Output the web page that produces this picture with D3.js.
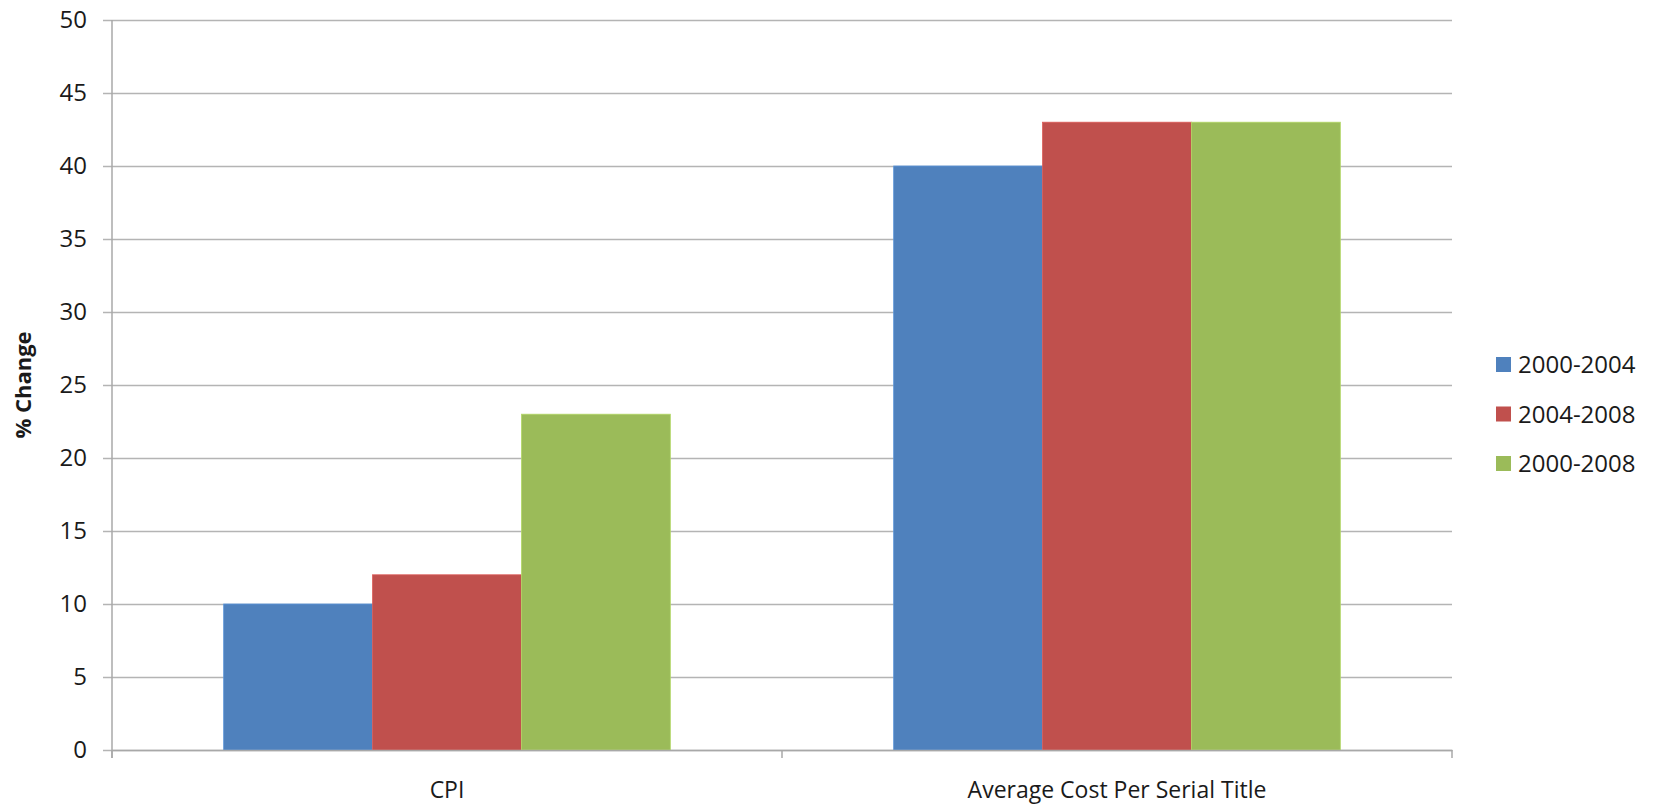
<!DOCTYPE html>
<html>
<head>
<meta charset="utf-8">
<script src="https://cdn.jsdelivr.net/npm/d3@7"></script>
<style>
  body { margin: 0; background: #fff; }
  text { font-family: "Open Sans", sans-serif; fill: #1a1a1a; }
</style>
</head>
<body>
<div id="chart"></div>
<script>
// data
var categories = ['CPI', 'Average Cost Per Serial Title'];
var seriesNames = ['2000-2004', '2004-2008', '2000-2008'];
var seriesColors = ['#4f81bd', '#c0504d', '#9bbb59'];
var values2000to2004 = [10, 40];
var values2004to2008 = [12, 43];
var values2000to2008 = [23, 43];
var yTicks = [0, 5, 10, 15, 20, 25, 30, 35, 40, 45, 50];

var width = 1656,
    height = 807,
    margin = { left: 112, right: 204, top: 20, bottom: 57 };

var chartWidth = width - margin.left - margin.right;
var chartHeight = height - margin.top - margin.bottom;

var seriesValues = [values2000to2004, values2004to2008, values2000to2008];
var data = categories.map(function(c, i) {
    return { cat: c, vals: seriesNames.map(function(s, j) { return { s: s, j: j, v: seriesValues[j][i] }; }) };
});

var svg = d3.select('#chart').append('svg')
    .attr('width', width)
    .attr('height', height);

var g = svg.append('g')
    .attr('transform', 'translate(' + margin.left + ',' + margin.top + ')');

var xScale = d3.scaleBand().domain(categories).range([0, chartWidth]).padding(0);
var x1 = d3.scaleBand().domain(seriesNames).range([0, xScale.bandwidth()])
    .paddingInner(0).paddingOuter(0.75);
var yScale = d3.scaleLinear().domain([0, 50]).range([chartHeight, 0]);

// gridlines + y axis
var yAxis = d3.axisLeft(yScale).tickValues(yTicks).tickSize(-chartWidth - 9).tickPadding(16);
var yG = g.append('g')
    .attr('class', 'axis y')
    .call(yAxis);
yG.select('.domain').remove();
yG.selectAll('.tick line')
    .attr('x1', -9)
    .attr('x2', chartWidth)
    .attr('stroke', '#b4b4b4')
    .attr('stroke-width', 1.5);
yG.selectAll('.tick text')
    .attr('x', -25)
    .style('font-size', '24px')
    .style('font-family', '"Open Sans", sans-serif')
    .attr('fill', '#1a1a1a');

// bars
var groups = g.selectAll('.grp').data(data).enter().append('g')
    .attr('class', 'grp')
    .attr('transform', function(d) { return 'translate(' + xScale(d.cat) + ',0)'; });

groups.selectAll('rect').data(function(d) { return d.vals; }).enter().append('rect')
    .attr('x', function(d) { return x1(d.s); })
    .attr('y', function(d) { return yScale(d.v); })
    .attr('width', x1.bandwidth())
    .attr('height', function(d) { return chartHeight - yScale(d.v); })
    .attr('fill', function(d) { return seriesColors[d.j]; })
    .attr('stroke', function(d) { return d3.color(seriesColors[d.j]).brighter(0.4); })
    .attr('stroke-width', 0.8);

// vertical axis line
g.append('line')
    .attr('x1', 0).attr('x2', 0)
    .attr('y1', 0).attr('y2', chartHeight + 8)
    .attr('stroke', '#a8a8a8').attr('stroke-width', 1.5);

// x axis
var xAxis = d3.axisBottom(xScale).tickSize(0).tickPadding(32);
var xG = g.append('g')
    .attr('class', 'axis x')
    .attr('transform', 'translate(0,' + chartHeight + ')')
    .call(xAxis);
xG.select('.domain').attr('stroke', '#a8a8a8').attr('stroke-width', 1.5);
xG.selectAll('.tick text')
    .style('font-size', '23px')
    .style('font-family', '"Open Sans", sans-serif')
    .attr('fill', '#1a1a1a');

// category boundary ticks
g.append('g').selectAll('line')
    .data(categories.map(function(c) { return xScale(c) + xScale.bandwidth(); }).concat([0]))
    .enter().append('line')
    .attr('x1', function(d) { return d; }).attr('x2', function(d) { return d; })
    .attr('y1', chartHeight).attr('y2', chartHeight + 8)
    .attr('stroke', '#a8a8a8').attr('stroke-width', 1.5);

// y title
svg.append('text')
    .attr('transform', 'translate(' + 31 + ',' + (margin.top + chartHeight / 2) + ') rotate(-90)')
    .attr('text-anchor', 'middle')
    .style('font-size', '22px')
    .style('font-weight', 'bold')
    .text('% Change');

// legend
var legend = svg.append('g')
    .attr('transform', 'translate(1496,357)');
var items = legend.selectAll('g').data(seriesNames).enter().append('g')
    .attr('transform', function(d, i) { return 'translate(0,' + (i * 49.5) + ')'; });
items.append('rect')
    .attr('width', 15).attr('height', 15)
    .attr('fill', function(d, i) { return seriesColors[i]; });
items.append('text')
    .attr('x', 22)
    .attr('y', 16)
    .style('font-size', '24px')
    .text(function(d) { return d; });
</script>
</body>
</html>
